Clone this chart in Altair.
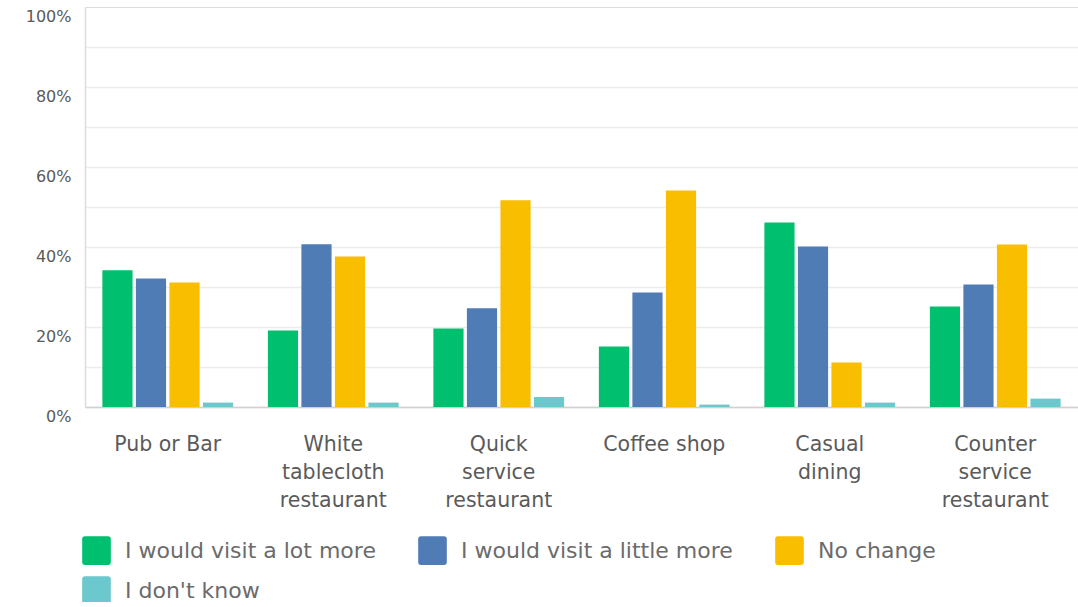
import altair as alt
import pandas as pd

categories = ["Pub or Bar", "White tablecloth restaurant", "Quick service restaurant",
              "Coffee shop", "Casual dining", "Counter service restaurant"]
series = ["I would visit a lot more", "I would visit a little more", "No change", "I don't know"]
colors = ["#00bf6f", "#507cb6", "#f9be00", "#6bc8cd"]

lot_more = [34.2, 19.1, 19.6, 15.1, 46.1, 25.1]
little_more = [32.1, 40.7, 24.7, 28.6, 40.1, 30.6]
no_change = [31.1, 37.6, 51.7, 54.1, 11.1, 40.6]
dont_know = [1.1, 1.1, 2.5, 0.6, 1.1, 2.1]

rows = []
for s, vals in zip(series, [lot_more, little_more, no_change, dont_know]):
    for c, v in zip(categories, vals):
        rows.append({"category": c, "series": s, "value": v / 100.0})
df = pd.DataFrame(rows)

FONT = "DejaVu Sans"
rounded = "M-0.8,-1 L0.8,-1 Q1,-1 1,-0.8 L1,0.8 Q1,1 0.8,1 L-0.8,1 Q-1,1 -1,0.8 L-1,-0.8 Q-1,-1 -0.8,-1 Z"

chart = alt.Chart(df).mark_bar().encode(
    x=alt.X("category:N", sort=categories, title=None,
            scale=alt.Scale(paddingInner=0.21, paddingOuter=0.105),
            axis=alt.Axis(labelAngle=0, labelAlign="center", labelBaseline="top",
                          labelFont=FONT, labelFontSize=20.5, labelColor="#5a5a5a",
                          labelLineHeight=28, labelPadding=27, ticks=False,
                          domainColor="#d0d0d0", domainWidth=1.5,
                          labelExpr="datum.label == 'Pub or Bar' || datum.label == 'Coffee shop' ? datum.label : split(datum.label, ' ')")),
    xOffset=alt.XOffset("series:N", sort=series, scale=alt.Scale(paddingInner=0.1)),
    y=alt.Y("value:Q", title=None,
            scale=alt.Scale(domain=[0, 1]),
            axis=alt.Axis(values=[i / 10 for i in range(11)], format=".0%",
                          labelExpr="round(datum.value*100) % 20 == 0 ? datum.label : ''",
                          labelFont=FONT, labelFontSize=16, labelColor="#5a5a5a",
                          labelPadding=14, labelOffset=9, ticks=False,
                          domainColor="#dcdcdc", domainWidth=1.5,
                          gridColor={"condition": {"test": "datum.value >= 1", "value": "transparent"},
                                     "value": "#ececec"},
                          gridWidth=1.5)),
    color=alt.Color("series:N", sort=series,
                    scale=alt.Scale(domain=series, range=colors),
                    legend=alt.Legend(title=None, orient="none", legendX=-3, legendY=529,
                                      direction="horizontal", columns=3,
                                      symbolType=rounded, symbolSize=820,
                                      symbolStrokeWidth=0, symbolOpacity=1,
                                      labelFont=FONT, labelFontSize=22, labelColor="#6b6b6b",
                                      labelOffset=14, columnPadding=42, rowPadding=11,
                                      labelLimit=400)),
).properties(
    width=993, height=400,
    padding={"left": 85, "top": 7, "right": 0, "bottom": 195},
    autosize=alt.AutoSizeParams(type="none"),
).configure_view(stroke=None).configure(background="white")

chart.save("out.html", embed_options={"renderer": "svg", "actions": False})
